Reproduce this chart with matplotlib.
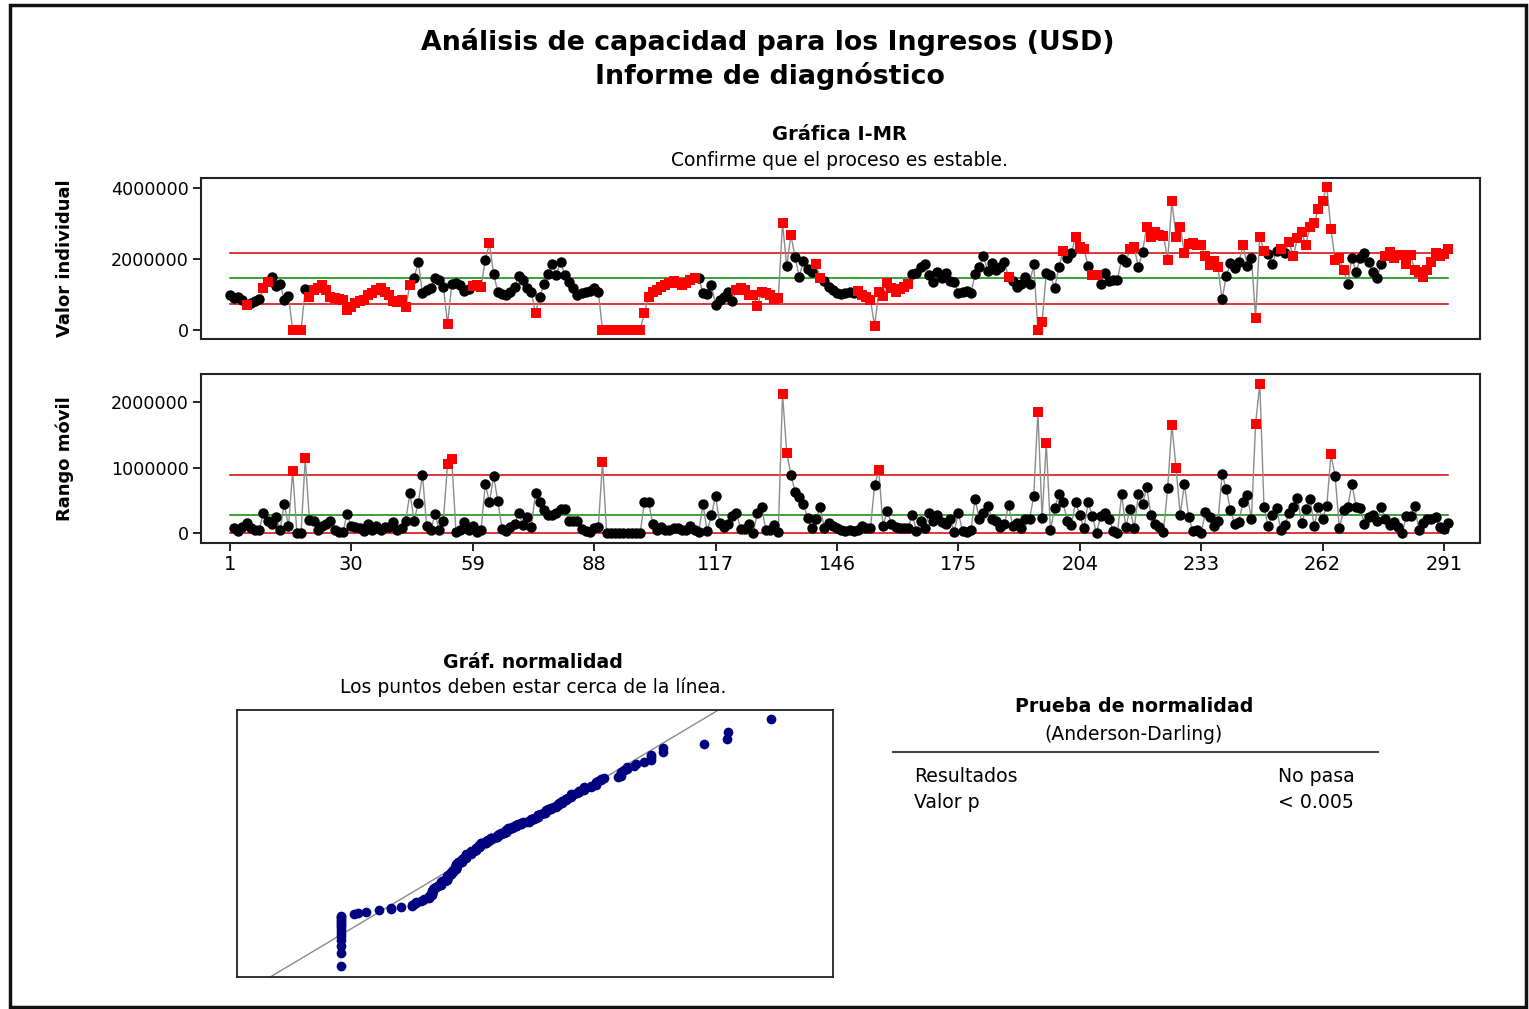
import numpy as np
import matplotlib
matplotlib.use("Agg")
import matplotlib.pyplot as plt
from matplotlib.patches import Rectangle
from matplotlib.lines import Line2D
from statistics import NormalDist

# Ingresos por observación, en miles de USD
ingresos_k = [
    990, 910, 940, 850, 700, 770, 820, 860, 1170, 1360,
    1500, 1250, 1300, 850, 950, 0, 0, 0, 1140, 940,
    1130, 1170, 1270, 1130, 940, 890, 870, 850, 560, 660,
    750, 820, 850, 990, 1030, 1130, 1170, 1080, 990, 820,
    780, 850, 660, 1270, 1460, 1920, 1030, 1130, 1170, 1460,
    1410, 1220, 160, 1290, 1310, 1270, 1100, 1150, 1250, 1270,
    1220, 1970, 2440, 1570, 1080, 1020, 990, 1080, 1220, 1530,
    1410, 1170, 1080, 470, 940, 1290, 1570, 1850, 1550, 1920,
    1550, 1360, 1170, 990, 1050, 1080, 1100, 1170, 1080, 0,
    0, 0, 0, 0, 0, 0, 0, 0, 0, 470,
    940, 1080, 1130, 1220, 1270, 1310, 1380, 1310, 1270, 1310,
    1410, 1450, 1470, 1030, 1000, 1270, 700, 850, 940, 1080,
    820, 1130, 1190, 1130, 990, 990, 680, 1080, 1030, 990,
    870, 890, 3020, 1790, 2680, 2050, 1500, 1940, 1710, 1640,
    1850, 1460, 1380, 1220, 1120, 1050, 1000, 1030, 1080, 1050,
    1100, 990, 920, 850, 120, 1080, 970, 1310, 1170, 1080,
    1150, 1220, 1290, 1570, 1600, 1780, 1850, 1550, 1360, 1640,
    1470, 1600, 1380, 1360, 1050, 1080, 1100, 1050, 1570, 1780,
    2080, 1660, 1880, 1690, 1780, 1910, 1480, 1380, 1220, 1290,
    1500, 1290, 1850, 0, 230, 1600, 1550, 1170, 1760, 2230,
    2040, 2160, 2630, 2350, 2280, 1810, 1550, 1550, 1290, 1600,
    1380, 1410, 1410, 2000, 1910, 2280, 2350, 1760, 2210, 2910,
    2630, 2770, 2680, 2660, 1970, 3620, 2630, 2910, 2160, 2410,
    2440, 2390, 2390, 2070, 1830, 1940, 1760, 860, 1530, 1880,
    1740, 1910, 2390, 1810, 2020, 350, 2630, 2230, 2130, 1850,
    2230, 2280, 2160, 2470, 2070, 2600, 2750, 2390, 2910, 3020,
    3410, 3630, 4040, 2840, 1970, 2040, 1690, 1290, 2040, 1640,
    2020, 2160, 1920, 1640, 1460, 1850, 2070, 2190, 2020, 2110,
    2110, 1850, 2110, 1690, 1640, 1480, 1690, 1910, 2160, 2070,
    2130, 2280,
]

# Observaciones que no pasan las pruebas de causas especiales
i_flagged = ([5, 9, 10, 16, 17, 18] + list(range(20, 45)) + [53, 59, 60, 61, 63, 74]
             + list(range(90, 113)) + list(range(122, 134)) + [135, 141, 142]
             + list(range(151, 164)) + [187, 194, 195, 200, 203, 204, 205, 207, 208, 216, 217]
             + list(range(220, 238)) + [243, 246, 247, 248, 252]
             + list(range(254, 268)) + list(range(277, 293)))
mr_flagged = [16, 19, 53, 54, 90, 133, 134, 156, 194, 196, 226, 227, 246, 247, 264]

x_ticks = [1, 30, 59, 88, 117, 146, 175, 204, 233, 262, 291]
i_ticks = [0, 2000000, 4000000]
mr_ticks = [0, 1000000, 2000000]

W, H = 1529, 1009
fig = plt.figure(figsize=(W / 100, H / 100), dpi=100)
plt.rcParams['font.family'] = ['DejaVu Sans']


def px_axes(x0, y0, x1, y1):
    return fig.add_axes([x0 / W, 1 - y1 / H, (x1 - x0) / W, (y1 - y0) / H])


def ftext(x, y, s, **kw):
    fig.text(x / W, 1 - y / H, s, va='center', **kw)


vals = np.array(ingresos_k, dtype=float) * 1000
n = len(vals)
obs = np.arange(1, n + 1)
mr = np.abs(np.diff(vals))
mr_obs = obs[1:]

mean = vals.mean()
mr_bar = mr.mean()
sigma = mr_bar / 1.128
i_ucl, i_lcl = mean + 3 * sigma, mean - 3 * sigma
mr_ucl = 3.267 * mr_bar

line_gray = '#8c8c8c'
red_line = '#d40000'
green_line = '#008a00'

# ---- Gráfica I ----
ax1 = px_axes(201, 178, 1480, 339)
ax1.plot(obs, vals, color=line_gray, lw=1.0, zorder=2)
for lvl, col in [(i_ucl, red_line), (mean, green_line), (i_lcl, red_line)]:
    ax1.plot([1, n], [lvl, lvl], color=col, lw=1.1, zorder=1)
fl = np.isin(obs, i_flagged)
ax1.plot(obs[~fl], vals[~fl], 'o', color='black', ms=7.5, mew=0, zorder=3)
ax1.plot(obs[fl], vals[fl], 's', color='#ff0000', ms=7.5, mew=0, zorder=4)
ax1.set_xlim(-5.9, 299.6)
ax1.set_ylim(-254000, 4280000)
ax1.set_xticks([])
ax1.set_yticks(i_ticks)
ax1.set_yticklabels([str(t) for t in i_ticks])
ax1.tick_params(axis='y', direction='out', length=6, width=1.2, labelsize=12.6, pad=3)
ax1.set_ylabel('Valor individual', fontsize=13, fontweight='bold')
ax1.yaxis.set_label_coords(-0.099, 0.5)

# ---- Gráfica MR ----
ax2 = px_axes(201, 374, 1480, 543)
ax2.plot(mr_obs, mr, color=line_gray, lw=1.0, zorder=2)
for lvl, col in [(mr_ucl, red_line), (mr_bar, green_line), (0, red_line)]:
    ax2.plot([1, n], [lvl, lvl], color=col, lw=1.1, zorder=1)
fm = np.isin(mr_obs, mr_flagged)
ax2.plot(mr_obs[~fm], mr[~fm], 'o', color='black', ms=7.5, mew=0, zorder=3)
ax2.plot(mr_obs[fm], mr[fm], 's', color='#ff0000', ms=7.5, mew=0, zorder=4)
ax2.set_xlim(-5.9, 299.6)
ax2.set_ylim(-153000, 2430000)
ax2.set_xticks(x_ticks)
ax2.set_xticklabels([str(t) for t in x_ticks])
ax2.set_yticks(mr_ticks)
ax2.set_yticklabels([str(t) for t in mr_ticks])
ax2.tick_params(axis='x', direction='out', length=6, width=1.2, labelsize=14, pad=3)
ax2.tick_params(axis='y', direction='out', length=6, width=1.2, labelsize=12.6, pad=3)
ax2.set_ylabel('Rango móvil', fontsize=13, fontweight='bold')
ax2.yaxis.set_label_coords(-0.099, 0.5)

for ax in (ax1, ax2):
    for sp in ax.spines.values():
        sp.set_linewidth(1.5)
        sp.set_color('#222222')

# ---- Gráfica de probabilidad normal ----
ax3 = px_axes(237, 710, 833, 977)
xs = np.sort(vals)
pr = (np.arange(1, n + 1) - 0.3) / (n + 0.4)
zs = np.array([NormalDist().inv_cdf(p) for p in pr])
sd = vals.std(ddof=1)
xl = (-980000, 4620000)
ax3.plot(xl, [(xl[0] - mean) / sd, (xl[1] - mean) / sd], color='#8a8a8a', lw=1.0, zorder=1)
ax3.plot(xs, zs, 'o', color='#000080', ms=7, mew=0, zorder=2)
ax3.set_xlim(*xl)
ax3.set_ylim(-3.07, 3.02)
ax3.set_xticks([])
ax3.set_yticks([])
for sp in ax3.spines.values():
    sp.set_linewidth(1.3)
    sp.set_color('#222222')

# ---- Textos ----
ftext(768, 42, 'Análisis de capacidad para los Ingresos (USD)', ha='center',
      fontsize=19.3, fontweight='bold')
ftext(770, 76, 'Informe de diagnóstico', ha='center', fontsize=19.3, fontweight='bold')
ftext(839, 135, 'Gráfica I-MR', ha='center', fontsize=14, fontweight='bold')
ftext(839, 160, 'Confirme que el proceso es estable.', ha='center', fontsize=13.5)
ftext(533, 662, 'Gráf. normalidad', ha='center', fontsize=13.6, fontweight='bold')
ftext(533, 687, 'Los puntos deben estar cerca de la línea.', ha='center', fontsize=13.5)
ftext(1134, 706, 'Prueba de normalidad', ha='center', fontsize=13.7, fontweight='bold')
ftext(1134, 735, '(Anderson-Darling)', ha='center', fontsize=13.5)
fig.add_artist(Line2D([893 / W, 1378 / W], [1 - 752 / H, 1 - 752 / H],
                      transform=fig.transFigure, color='#444444', lw=1.5))
ftext(914, 777, 'Resultados', ha='left', fontsize=13.6)
ftext(914, 803, 'Valor p', ha='left', fontsize=13.6)
ftext(1278, 777, 'No pasa', ha='left', fontsize=13.6)
ftext(1278, 803, '< 0.005', ha='left', fontsize=13.6)

# Marco exterior
fig.add_artist(Rectangle((10 / W, 1 - 1007 / H), 1516 / W, 1002 / H, fill=False,
                         transform=fig.transFigure, lw=2.5, edgecolor='#111111'))

fig.savefig('out.png', dpi=100)
